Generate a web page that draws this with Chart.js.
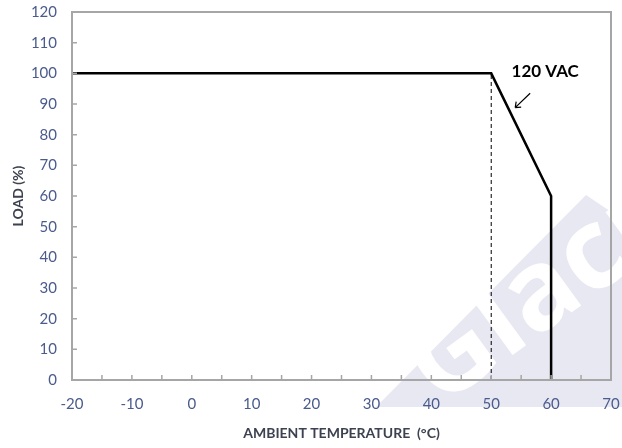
<!DOCTYPE html>
<html>
<head>
<meta charset="utf-8">
<script src="https://cdn.jsdelivr.net/npm/chart.js@4.4.0/dist/chart.umd.min.js"></script>
<style>
  html, body { margin: 0; padding: 0; background: #fff; }
  #wrap { width: 622px; height: 448px; }
</style>
</head>
<body>
<div id="wrap"><canvas id="myChart"></canvas></div>
<script>
// derating curve, 120 VAC
var tempValues = [-20, 50, 60, 60];
var loadValues = [100, 100, 60, 0];
// dashed marker at 50 C
var markTemp = [50, 50];
var markLoad = [0, 100];
var xTicks = [-20, -10, 0, 10, 20, 30, 40, 50, 60, 70];
var yTicks = [0, 10, 20, 30, 40, 50, 60, 70, 80, 90, 100, 110, 120];

var axisGrey = "#a6a6a6";
var tickColor = "#4a5b8c";

function toPoints(xs, ys) {
  return xs.map(function (x, i) { return { x: x, y: ys[i] }; });
}

var watermark = {
  id: "watermark",
  beforeDraw: function (chart) {
    var ctx = chart.ctx;
    ctx.save();
    ctx.fillStyle = "#e7e8f2";
    ctx.beginPath();
    ctx.moveTo(586, 195);
    ctx.lineTo(376, 407);
    ctx.lineTo(900, 407);
    ctx.closePath();
    ctx.fill();
    ctx.translate(440, 408);
    ctx.rotate(-36 * Math.PI / 180);
    ctx.fillStyle = "#fff";
    ctx.font = "bold 112px 'Open Sans'";
    ctx.fillText("Glacier", 0, 0);
    ctx.restore();
  }
};

var frame = {
  id: "frame",
  afterDatasetsDraw: function (chart) {
    var ctx = chart.ctx;
    var a = chart.chartArea;
    var xs = chart.scales.x, ys = chart.scales.y;
    ctx.save();
    ctx.strokeStyle = axisGrey;
    ctx.lineWidth = 2;
    ctx.strokeRect(a.left, a.top, a.right - a.left, a.bottom - a.top);
    ctx.lineWidth = 1.5;
    ctx.beginPath();
    for (var t = -20; t <= 70; t += 5) {
      var px = xs.getPixelForValue(t);
      ctx.moveTo(px, a.bottom);
      ctx.lineTo(px, a.bottom - 5);
    }
    yTicks.forEach(function (v) {
      var py = ys.getPixelForValue(v);
      ctx.moveTo(a.left, py);
      ctx.lineTo(a.left + 5, py);
    });
    ctx.stroke();

    // label + arrow
    var lx = xs.getPixelForValue(53.4), ly = ys.getPixelForValue(100.6);
    ctx.fillStyle = "#000";
    ctx.font = "bold 17px Lato";
    ctx.textBaseline = "middle";
    ctx.fillText("120 VAC", lx, ly);
    var x1 = xs.getPixelForValue(56.5), y1 = ys.getPixelForValue(93.5);
    var x2 = xs.getPixelForValue(54), y2 = ys.getPixelForValue(88.8);
    ctx.strokeStyle = "#000";
    ctx.lineWidth = 1.2;
    ctx.beginPath();
    ctx.moveTo(x1, y1);
    ctx.lineTo(x2, y2);
    ctx.moveTo(x2, y2);
    ctx.lineTo(x2 + 1, y2 - 6);
    ctx.moveTo(x2, y2);
    ctx.lineTo(x2 + 6, y2 - 0.5);
    ctx.stroke();
    ctx.restore();
  }
};

function noPad(s) {
  s.paddingTop = 0; s.paddingBottom = 0; s.paddingLeft = 0; s.paddingRight = 0;
}

new Chart("myChart", {
  type: "scatter",
  data: {
    datasets: [{
      data: toPoints(tempValues, loadValues),
      showLine: true,
      borderColor: "#000",
      borderWidth: 2.5,
      pointRadius: 0,
      borderJoinStyle: "miter"
    }, {
      data: toPoints(markTemp, markLoad),
      showLine: true,
      borderColor: "#000",
      borderWidth: 1,
      borderDash: [4, 3],
      pointRadius: 0
    }]
  },
  options: {
    responsive: true,
    maintainAspectRatio: false,
    animation: false,
    layout: { padding: { top: 12, right: 11, left: 0, bottom: 0 } },
    plugins: {
      legend: { display: false },
      tooltip: { enabled: false }
    },
    scales: {
      x: {
        type: "linear",
        min: -20,
        max: 70,
        afterBuildTicks: function (s) { s.ticks = xTicks.map(function (v) { return { value: v }; }); },
        afterFit: function (s) { s.height = 68; noPad(s); },
        grid: { display: false, drawTicks: false },
        border: { display: false },
        ticks: { color: tickColor, font: { family: "Lato", size: 15 }, padding: 15, maxRotation: 0 },
        title: {
          display: true,
          text: "AMBIENT TEMPERATURE  (°C)",
          color: "#3d4250",
          font: { family: "Lato", size: 14, weight: "bold" },
          padding: { top: 0, bottom: 6 }
        }
      },
      y: {
        min: 0,
        max: 120,
        afterBuildTicks: function (s) { s.ticks = yTicks.map(function (v) { return { value: v }; }); },
        afterFit: function (s) { s.width = 72; noPad(s); },
        grid: { display: false, drawTicks: false },
        border: { display: false },
        ticks: { color: tickColor, font: { family: "Lato", size: 15 }, padding: 15 },
        title: {
          display: true,
          text: "LOAD (%)",
          color: "#3d4250",
          font: { family: "Lato", size: 14, weight: "bold" },
          padding: { top: 10, bottom: 0 }
        }
      }
    }
  },
  plugins: [watermark, frame]
});
</script>
</body>
</html>
